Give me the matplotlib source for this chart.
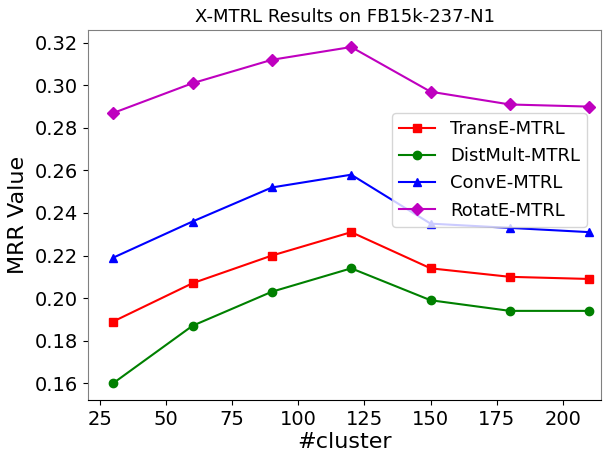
import matplotlib
matplotlib.use("Agg")
import matplotlib.pyplot as plt

clusters = [30, 60, 90, 120, 150, 180, 210]
transe = [0.189, 0.207, 0.220, 0.231, 0.214, 0.210, 0.209]
distmult = [0.160, 0.187, 0.203, 0.214, 0.199, 0.194, 0.194]
conve = [0.219, 0.236, 0.252, 0.258, 0.235, 0.233, 0.231]
rotate = [0.287, 0.301, 0.312, 0.318, 0.297, 0.291, 0.290]

fig = plt.figure(figsize=(6.03, 4.51), dpi=100)
ax = fig.add_axes([0.146, 0.113, 0.851, 0.820])
ax.plot(clusters, transe, color='red', marker='s', markersize=6, label='TransE-MTRL')
ax.plot(clusters, distmult, color='green', marker='o', markersize=6, label='DistMult-MTRL')
ax.plot(clusters, conve, color='blue', marker='^', markersize=6, label='ConvE-MTRL')
ax.plot(clusters, rotate, color='m', marker='D', markersize=6, label='RotatE-MTRL')
ax.set_xlim(20.5, 214.5)
ax.set_ylim(0.1521, 0.3259)
ax.set_xticks([25, 50, 75, 100, 125, 150, 175, 200])
ax.tick_params(labelsize=14)
ax.set_xlabel('#cluster', fontsize=16, labelpad=2)
ax.set_ylabel('MRR Value', fontsize=16, labelpad=5)
ax.set_title('X-MTRL Results on FB15k-237-N1', fontsize=13)
for s in ['top', 'right', 'left']:
    ax.spines[s].set_color('#808080')
ax.legend(fontsize=13, loc='upper right', bbox_to_anchor=(0.99, 0.80))
fig.savefig('out.png', dpi=100)
